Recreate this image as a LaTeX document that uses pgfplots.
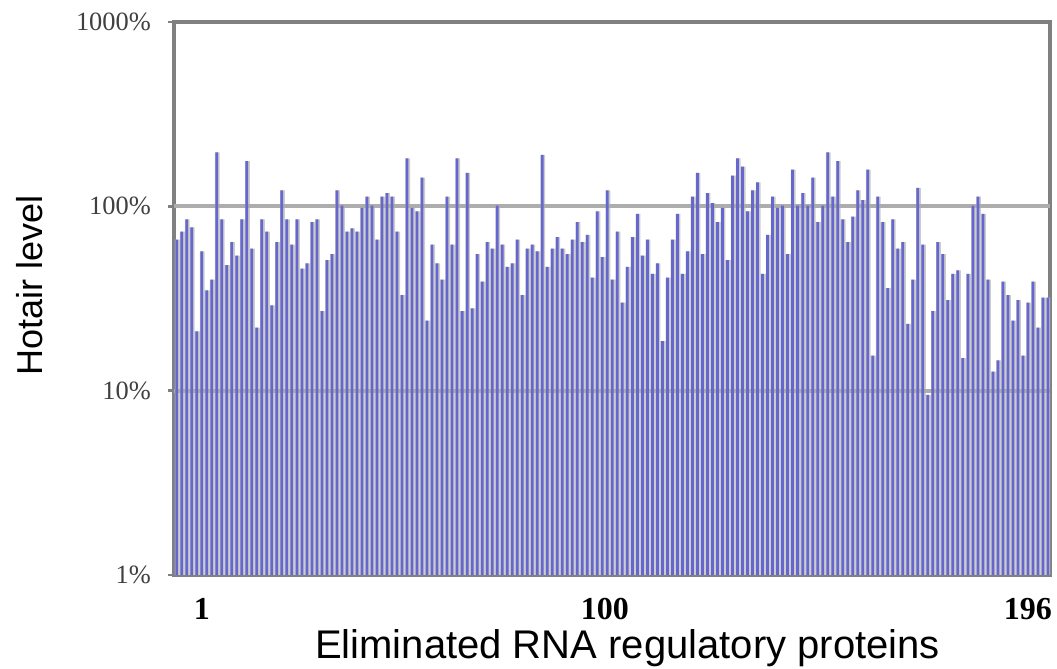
\documentclass[border=0pt]{standalone}
\usepackage{fontspec}
\setmainfont{Liberation Serif}
\newfontfamily\arialfont{Liberation Sans}
\usepackage{pgfplots}
\usepackage{pgfplotstable}
\pgfplotsset{compat=1.18}
\definecolor{barblue}{HTML}{6666CF}
\definecolor{frame}{HTML}{808080}

% Hotair level (%) after each knock-down, read off left to right
\pgfplotstableread[row sep=\\]{
lvl\\
66\\ 73\\ 85\\ 77\\ 21\\ 57\\ 35\\ 40\\ 196\\ 85\\ 48\\ 64\\ 54\\ 85\\ 176\\ 59\\ 22\\ 85\\ 73\\ 29\\ 64\\ 122\\
85\\ 62\\ 85\\ 46\\ 49\\ 82\\ 85\\ 27\\ 51\\ 55\\ 122\\ 101\\ 73\\ 76\\ 73\\ 98\\ 113\\ 101\\ 66\\ 113\\ 118\\ 113\\
73\\ 33\\ 182\\ 98\\ 94\\ 143\\ 24\\ 62\\ 49\\ 40\\ 113\\ 62\\ 182\\ 27\\ 152\\ 28\\ 55\\ 39\\ 64\\ 59\\ 101\\ 62\\
47\\ 49\\ 66\\ 33\\ 59\\ 62\\ 57\\ 190\\ 47\\ 59\\ 68\\ 59\\ 55\\ 66\\ 82\\ 64\\ 70\\ 41\\ 94\\ 53\\ 122\\ 40\\
73\\ 30\\ 47\\ 68\\ 91\\ 54\\ 66\\ 43\\ 49\\ 18.6\\ 41\\ 66\\ 91\\ 43\\ 57\\ 113\\ 152\\ 55\\ 118\\ 104\\ 82\\ 98\\
51\\ 147\\ 182\\ 164\\ 94\\ 122\\ 135\\ 43\\ 70\\ 113\\ 98\\ 101\\ 55\\ 158\\ 101\\ 118\\ 101\\ 143\\ 82\\ 101\\ 196\\ 113\\
176\\ 85\\ 64\\ 88\\ 122\\ 108\\ 158\\ 15.5\\ 113\\ 82\\ 36\\ 85\\ 59\\ 64\\ 23\\ 40\\ 126\\ 62\\ 9.5\\ 27\\ 64\\ 55\\
31\\ 43\\ 45\\ 15\\ 43\\ 101\\ 113\\ 91\\ 40\\ 12.7\\ 14.6\\ 39\\ 33\\ 24\\ 31\\ 15.5\\ 30\\ 39\\ 22\\ 32\\ 32\\
}\levels

\begin{document}
\begin{tikzpicture}
  \useasboundingbox (-43.5bp,-23.5bp) rectangle (220.75bp,143.75bp);
  \begin{axis}[
    at={(0,0)}, anchor=south west,
    scale only axis, width=219bp, height=138.25bp,
    ymode=log, log origin=infty,
    ymin=1, ymax=1000,
    xmin=0.46, xmax=175.4,
    ytick={1,10,100,1000},
    yticklabels={1\%,10\%,100\%,1000\%},
    yminorticks=false,
    xtick={6.05,86.5,171},
    xticklabels={1,100,196},
    xtick style={draw=none},
    ytick pos=left, tick align=outside,
    major tick length=1.6bp,
    ytick style={frame, line width=0.6bp},
    yticklabel style={font=\fontsize{6.6bp}{7bp}\selectfont, text=black!75,
                      anchor=east, inner sep=0pt, xshift=-4bp},
    xticklabel style={font=\fontsize{8bp}{9bp}\selectfont\bfseries,
                      anchor=center, inner sep=0pt, yshift=-7bp},
    axis line style={frame, line width=0.9bp},
    ylabel={Hotair level},
    xlabel={Eliminated RNA regulatory proteins},
    ylabel style={at={(axis description cs:-0.1644,0.523)}, anchor=center,
                  font=\arialfont\fontsize{9bp}{10bp}\selectfont},
    xlabel style={at={(axis description cs:0.5177,-0.132)}, anchor=center,
                  font=\arialfont\fontsize{10bp}{11bp}\selectfont},
  ]
    % soft grey shadow behind each bar
    \addplot[ybar, bar width=0.95, bar shift=0.12, draw=none, fill=black!20]
      table[x expr=\coordindex+1, y=lvl] {\levels};
    % grid lines go over the shadow but under the bars
    \draw[black!32, line width=1bp]
      (axis cs:0.46,10) -- (axis cs:175.4,10)
      (axis cs:0.46,100) -- (axis cs:175.4,100);
    \addplot[ybar, bar width=0.55, bar shift=0, draw=none, fill=barblue]
      table[x expr=\coordindex+1, y=lvl] {\levels};
  \end{axis}
\end{tikzpicture}
\end{document}
